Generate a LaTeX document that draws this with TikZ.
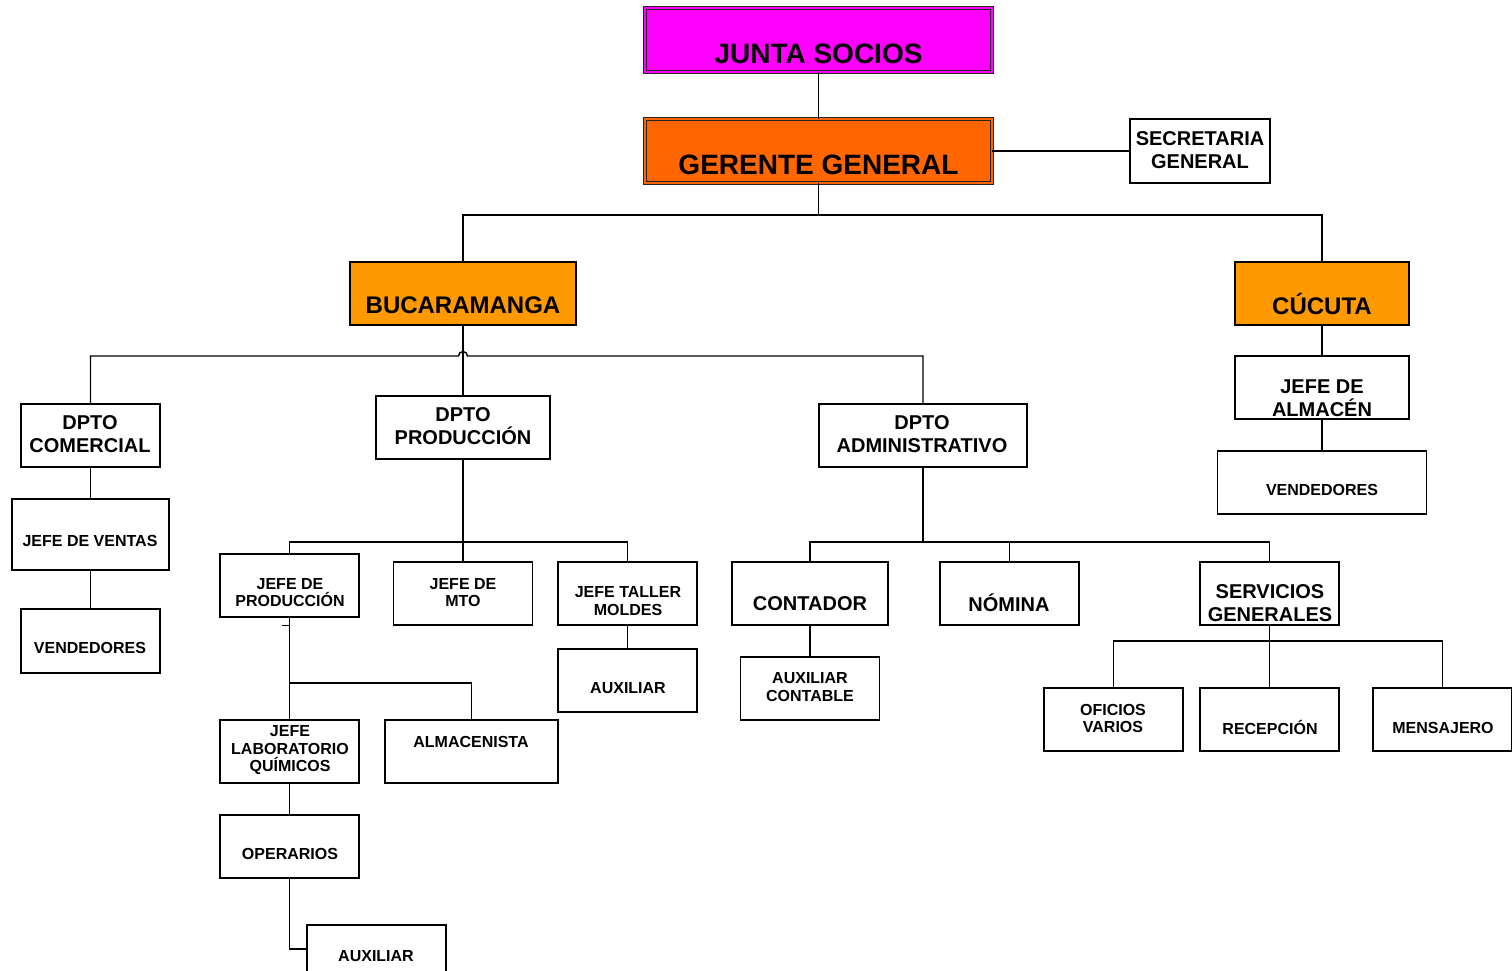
\documentclass[tikz,border=0pt]{standalone}
\usepackage{fontspec}
\setmainfont{Liberation Sans}
\usepackage{xcolor}
\definecolor{junta}{HTML}{FF00FF}
\definecolor{gerente}{HTML}{FF6600}
\definecolor{sede}{HTML}{FF9900}
\usepackage{tikz}
\tikzset{
    unit/.style = {
      draw,
      line width=1.3pt,
      fill=white,
      inner sep=0pt
    },
    head/.style = {
      draw=black!85,
      line width=0.8pt,
      double distance=2.4pt,
      inner sep=0pt
    },
    big/.style = {
      font=\fontsize{28}{32}\selectfont\bfseries,
      inner sep=0pt
    },
    mid/.style = {
      font=\fontsize{24}{27}\selectfont\bfseries,
      inner sep=0pt
    },
    std/.style = {
      font=\fontsize{20}{23}\selectfont\bfseries,
      align=center,
      inner sep=0pt
    },
    small/.style = {
      font=\fontsize{16}{17.5}\selectfont\bfseries,
      align=center,
      inner sep=0pt
    }
}

\begin{document}
\begin{tikzpicture}[x=1pt, y=-1pt, line width=1.4pt]
      \useasboundingbox (0,0) rectangle (1512,971);

      % boxes
      \node[head, fill=junta, double=junta, minimum width=347, minimum height=64] (js) at (818.5, 40) {};
      \node[head, fill=gerente, double=gerente, minimum width=347, minimum height=64] (gg) at (818.5, 151) {};
      \node[unit, minimum width=140, minimum height=64] (sg) at (1200, 151) {};
      \node[unit, fill=sede, minimum width=226, minimum height=63] (bu) at (463, 293.5) {};
      \node[unit, fill=sede, minimum width=174, minimum height=63] (cu) at (1322, 293.5) {};
      \node[unit, minimum width=174, minimum height=63] (ja) at (1322, 387.5) {};
      \node[unit, minimum width=209, minimum height=63] (vc) at (1322, 482.5) {};
      \node[unit, minimum width=139, minimum height=63] (dc) at (90.5, 435.5) {};
      \node[unit, minimum width=157, minimum height=71] (jv) at (90.5, 534.5) {};
      \node[unit, minimum width=139, minimum height=64] (vb) at (90.5, 641) {};
      \node[unit, minimum width=174, minimum height=63] (dp) at (463, 427.5) {};
      \node[unit, minimum width=139, minimum height=63] (jp) at (289.5, 585.5) {};
      \node[unit, minimum width=139, minimum height=63] (jm) at (463, 593.5) {};
      \node[unit, minimum width=139, minimum height=63] (jt) at (627.5, 593.5) {};
      \node[unit, minimum width=139, minimum height=63] (at) at (627.5, 680.5) {};
      \node[unit, minimum width=139, minimum height=63] (jl) at (289.5, 751.5) {};
      \node[unit, minimum width=173, minimum height=63] (al) at (471.5, 751.5) {};
      \node[unit, minimum width=139, minimum height=63] (op) at (289.5, 846.5) {};
      \node[unit, minimum width=139, minimum height=48] (ax) at (376.5, 949) {};
      \node[unit, minimum width=208, minimum height=63] (da) at (923, 435.5) {};
      \node[unit, minimum width=156, minimum height=63] (ct) at (810, 593.5) {};
      \node[unit, minimum width=139, minimum height=63] (nm) at (1009.5, 593.5) {};
      \node[unit, minimum width=139, minimum height=63] (sv) at (1269.5, 593.5) {};
      \node[unit, minimum width=139, minimum height=63] (ac) at (810, 688.5) {};
      \node[unit, minimum width=139, minimum height=63] (of) at (1113.5, 719.5) {};
      \node[unit, minimum width=139, minimum height=63] (rc) at (1269.5, 719.5) {};
      \node[unit, minimum width=139, minimum height=63] (ms) at (1442.5, 719.5) {};

      % texts
      \node[big] (js-t) at (818.5, 54) {JUNTA SOCIOS};
      \node[big] (gg-t) at (818.5, 165) {GERENTE GENERAL};
      \node[std] (sg-t) at (1200, 150) {SECRETARIA\\GENERAL};
      \node[mid] (bu-t) at (463, 305) {BUCARAMANGA};
      \node[mid] (cu-t) at (1322, 304) {CÚCUTA};
      \node[std] (ja-t) at (1322, 398) {JEFE DE\\ALMACÉN};
      \node[small] (vc-t) at (1322, 490) {VENDEDORES};
      \node[std] (dc-t) at (90, 434.5) {DPTO\\COMERCIAL};
      \node[small] (jv-t) at (90, 541) {JEFE DE VENTAS};
      \node[small] (vb-t) at (90, 648) {VENDEDORES};
      \node[std] (dp-t) at (463, 426.5) {DPTO\\PRODUCCIÓN};
      \node[small] (jp-t) at (290, 592.5) {JEFE DE\\PRODUCCIÓN};
      \node[small] (jm-t) at (463, 592.5) {JEFE DE\\MTO};
      \node[small] (jt-t) at (628, 601) {JEFE TALLER\\MOLDES};
      \node[small] (at-t) at (628, 688.5) {AUXILIAR};
      \node[small] (jl-t) at (290, 750.5) {JEFE\\LABORATORIO\\QUÍMICOS};
      \node[small] (al-t) at (471, 741.5) {ALMACENISTA};
      \node[small] (op-t) at (290, 853.5) {OPERARIOS};
      \node[small] (ax-t) at (376, 956.5) {AUXILIAR};
      \node[std] (da-t) at (922, 434.5) {DPTO\\ADMINISTRATIVO};
      \node[std] (ct-t) at (810, 603.5) {CONTADOR};
      \node[std] (nm-t) at (1009, 602.5) {NÓMINA};
      \node[std] (sv-t) at (1270, 603.5) {SERVICIOS\\GENERALES};
      \node[small] (ac-t) at (810, 687) {AUXILIAR\\CONTABLE};
      \node[small] (of-t) at (1113, 718.5) {OFICIOS\\VARIOS};
      \node[small] (rc-t) at (1270, 727.5) {RECEPCIÓN};
      \node[small] (ms-t) at (1443, 727.5) {MENSAJERO};

      % joints
      \coordinate (gjoin) at (818.5, 215);
      \coordinate (bjoin) at (463, 356);
      \coordinate (pjoin) at (463, 542);
      \coordinate (ljoin) at (289.5, 683);
      \coordinate (ajoin) at (923, 542);
      \coordinate (sjoin) at (1269.5, 641);

      % connectors
      \draw (js.south) -- (gg.north);
      \draw (gg.east) -- (sg.west);
      \draw (gg.south) -- (gjoin);
      \draw (bu.north) |- (gjoin) -| (cu.north);
      \draw (bu.south) -- (dp.north);
      \draw (dc.north) |- ([xshift=-4.5pt]bjoin) arc[start angle=180, end angle=360, radius=4.5] -| (da.north);
      \draw (cu.south) -- (ja.north);
      \draw (ja.south) -- (vc.north);
      \draw (dc.south) -- (jv.north);
      \draw (jv.south) -- (vb.north);
      \draw (dp.south) -- (jm.north);
      \draw (jp.north) |- (pjoin) -| (jt.north);
      \draw (jt.south) -- (at.north);
      \draw (jp.south) -- (jl.north);
      \draw ([yshift=-8pt]jp.south) -- ++(-8,0);
      \draw (ljoin) -| (al.north);
      \draw (jl.south) -- (op.north);
      \draw (op.south) |- (ax.west);
      \draw (da.south) -- (ajoin);
      \draw (ct.north) |- (ajoin) -| (sv.north);
      \draw (nm.north) -- (nm.north |- ajoin);
      \draw (ct.south) -- (ac.north);
      \draw (sv.south) -- (rc.north);
      \draw (of.north) |- (sjoin) -| (ms.north);
    \end{tikzpicture}
\end{document}
